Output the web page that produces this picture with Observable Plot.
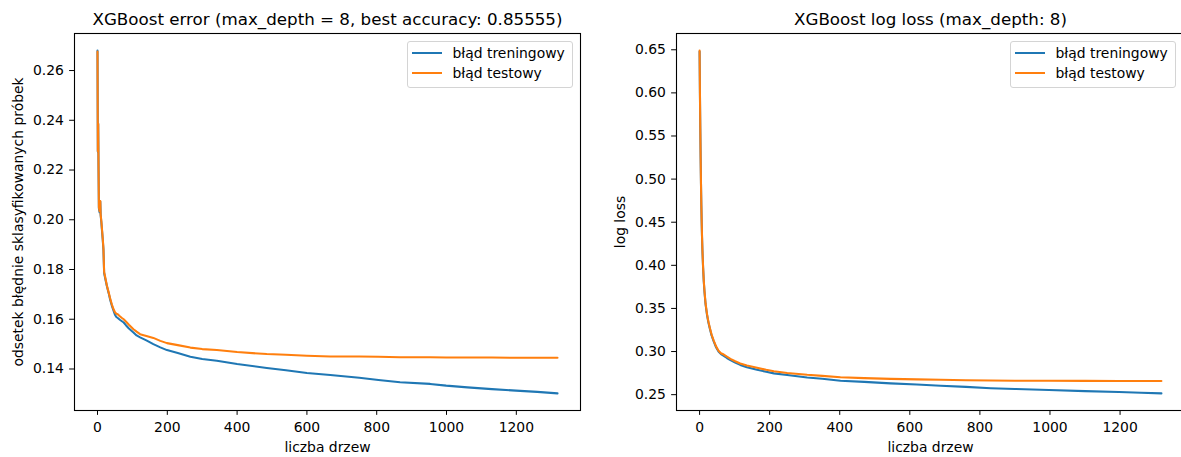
<!DOCTYPE html>
<html>
<head>
<meta charset="utf-8">
<script src="https://cdn.jsdelivr.net/npm/d3@7"></script>
<script src="https://cdn.jsdelivr.net/npm/@observablehq/plot@0.6"></script>
<style>
html, body { margin: 0; padding: 0; background: #fff; overflow: hidden; }
body { width: 1181px; height: 457px; position: relative; font-family: "DejaVu Sans", sans-serif; }
.panel { position: absolute; top: 0; }
.legend { position: absolute; box-sizing: border-box; border: 1px solid #d4d4d4; border-radius: 3px; background: rgba(255,255,255,0.8); }
.legend .row { position: absolute; left: 0; height: 16px; width: 100%; }
.legend .sw { position: absolute; left: 4px; top: 7px; width: 30px; height: 2px; }
.legend .lab { position: absolute; left: 45px; top: 0; font-size: 13.9px; line-height: 16px; white-space: nowrap; color: #000; }
</style>
</head>
<body>
<script>
// ---------- data ----------
const seriesNames = ["błąd treningowy", "błąd testowy"];
const seriesColors = ["#1f77b4", "#ff7f0e"];
const xTicks = [0, 200, 400, 600, 800, 1000, 1200];

// left: classification error
const errTitle = "XGBoost error (max_depth = 8, best accuracy: 0.85555)";
const errYLabel = "odsetek błędnie sklasyfikowanych próbek";
const errYTicks = [0.14, 0.16, 0.18, 0.20, 0.22, 0.24, 0.26];
const errTrees = [0,1,2,3,4,6,8,9,11,13,15,17,19,22,27,32,36,41,46,50,54,58,64,70,75,82,90,103,112,122,140,160,180,199,230,266,300,342,400,485,540,600,667,750,805,867,953,999,1060,1130,1199,1260,1318];
const errTrain = [0.2680,0.2273,0.2386,0.2200,0.2046,0.2030,0.2073,0.2020,0.1990,0.1955,0.1920,0.1880,0.1786,0.1765,0.1733,0.1705,0.1680,0.1655,0.1635,0.1618,0.1609,0.1605,0.1598,0.1592,0.1587,0.1575,0.1563,0.1547,0.1535,0.1527,0.1515,0.1500,0.1487,0.1476,0.1464,0.1449,0.1440,0.1433,0.1420,0.1404,0.1395,0.1384,0.1376,0.1365,0.1356,0.1347,0.1340,0.1333,0.1326,0.1319,0.1313,0.1308,0.1302];
const errTest  = [0.2676,0.2275,0.2386,0.2205,0.2050,0.2035,0.2075,0.2022,0.1995,0.1960,0.1925,0.1885,0.1790,0.1770,0.1735,0.1708,0.1685,0.1660,0.1640,0.1628,0.1622,0.1620,0.1612,0.1605,0.1600,0.1590,0.1578,0.1560,0.1550,0.1540,0.1533,0.1525,0.1513,0.1504,0.1496,0.1486,0.1480,0.1476,0.1468,0.1460,0.1457,0.1453,0.1450,0.1450,0.1449,0.1447,0.1447,0.1446,0.1446,0.1446,0.1445,0.1445,0.1445];

// right: log loss
const lossTitle = "XGBoost log loss (max_depth: 8)";
const lossYLabel = "log loss";
const lossYTicks = [0.25, 0.30, 0.35, 0.40, 0.45, 0.50, 0.55, 0.60, 0.65];
const lossTrees = [0,1,2,3,4,5,6,7,8,10,12,14,17,21,25,29,34,40,47,54,61,69,78,88,100,116,135,164,190,212,250,307,350,402,470,545,620,688,760,831,900,997,1100,1197,1260,1318];
const lossTrain = [0.648,0.599,0.559,0.524,0.494,0.469,0.449,0.432,0.418,0.397,0.381,0.369,0.355,0.343,0.334,0.327,0.319,0.312,0.305,0.300,0.297,0.295,0.2925,0.290,0.2875,0.2845,0.2818,0.2790,0.2765,0.2747,0.2727,0.2700,0.2684,0.2662,0.2648,0.2631,0.2617,0.2603,0.2590,0.2575,0.2566,0.2555,0.2541,0.2531,0.2523,0.2515];
const lossTest  = [0.649,0.600,0.560,0.525,0.495,0.470,0.450,0.433,0.419,0.398,0.382,0.370,0.356,0.344,0.335,0.328,0.320,0.313,0.306,0.301,0.298,0.2965,0.294,0.2915,0.289,0.2862,0.2838,0.2812,0.2788,0.2772,0.2752,0.2730,0.2718,0.2702,0.2692,0.2683,0.2677,0.2672,0.2668,0.2664,0.2662,0.2661,0.2660,0.2659,0.2659,0.2659];

// ---------- drawing ----------
const FS = 13.9, TFS = 16.7;
const fmt2 = d3.format(".2f");
function padded(ext) { const r = ext[1] - ext[0]; return [ext[0] - 0.05 * r, ext[1] + 0.05 * r]; }

function panel({trees, train, test, yTicks, title, ylabel, width, marginLeft}) {
  const trainRows = trees.map((t, i) => ({t, v: train[i]}));
  const testRows = trees.map((t, i) => ({t, v: test[i]}));
  return Plot.plot({
    width, height: 457,
    marginLeft, marginRight: 10, marginTop: 33, marginBottom: 47,
    style: {fontFamily: "'DejaVu Sans', sans-serif", fontSize: FS + "px", background: "transparent", color: "black", overflow: "visible"},
    x: {domain: padded(d3.extent(trees))},
    y: {domain: padded(d3.extent([...train, ...test]))},
    marks: [
      Plot.line(trainRows, {x: "t", y: "v", stroke: seriesColors[0], strokeWidth: 2.08, strokeLinejoin: "round"}),
      Plot.line(testRows, {x: "t", y: "v", stroke: seriesColors[1], strokeWidth: 2.08, strokeLinejoin: "round"}),
      Plot.frame({stroke: "black", strokeWidth: 1.1}),
      Plot.axisX({ticks: xTicks, tickFormat: d3.format("d"), tickSize: 4.86, tickPadding: 7, fontSize: FS, label: null}),
      Plot.axisY({ticks: yTicks, tickFormat: fmt2, tickSize: 4.86, tickPadding: 5.8, fontSize: FS, label: null}),
      Plot.text([title], {frameAnchor: "top", dy: -8.3, lineAnchor: "bottom", fontSize: TFS}),
      Plot.text(["liczba drzew"], {frameAnchor: "bottom", dy: 41.7, lineAnchor: "bottom", fontSize: FS}),
      Plot.text([ylabel], {frameAnchor: "left", dx: -55.5, rotate: -90, textAnchor: "middle", lineAnchor: "middle", fontSize: FS})
    ]
  });
}

function legend(left, top) {
  const box = document.createElement("div");
  box.className = "legend";
  Object.assign(box.style, {left: left + "px", top: top + "px", width: "166px", height: "47px"});
  seriesNames.forEach((name, i) => {
    const row = document.createElement("div");
    row.className = "row";
    row.style.top = (3 + i * 20.6) + "px";
    const sw = document.createElement("div");
    sw.className = "sw";
    sw.style.background = seriesColors[i];
    const lab = document.createElement("div");
    lab.className = "lab";
    lab.textContent = name;
    row.appendChild(sw); row.appendChild(lab);
    box.appendChild(row);
  });
  document.body.appendChild(box);
}

const leftPlot = panel({trees: errTrees, train: errTrain, test: errTest, yTicks: errYTicks, title: errTitle, ylabel: errYLabel, width: 590, marginLeft: 74});
leftPlot.classList.add("panel");
leftPlot.style.left = "0px";
document.body.appendChild(leftPlot);

const rightPlot = panel({trees: lossTrees, train: lossTrain, test: lossTest, yTicks: lossYTicks, title: lossTitle, ylabel: lossYLabel, width: 604, marginLeft: 86});
rightPlot.classList.add("panel");
rightPlot.style.left = "590px";
document.body.appendChild(rightPlot);

legend(406.5, 40.5);
legend(1009.5, 40.5);
</script>
</body>
</html>
